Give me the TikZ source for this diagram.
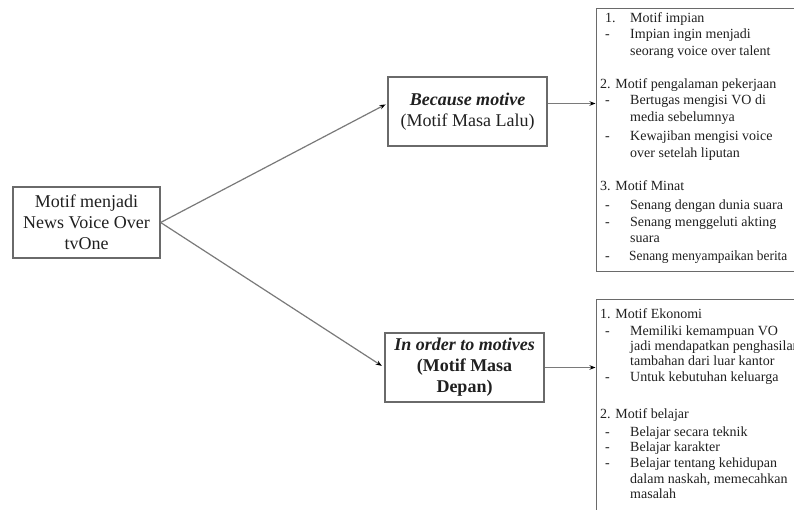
\documentclass[tikz,border=0pt]{standalone}
\usepackage{fontspec}
\setmainfont{Liberation Serif}
\usetikzlibrary{arrows.meta}
\definecolor{boxgray}{HTML}{6A6A6A}
\definecolor{linegray}{HTML}{7A7A7A}
\definecolor{txt}{HTML}{202020}
\begin{document}
\begin{tikzpicture}[x=1pt,y=-1pt,
  box/.style={draw=boxgray, line width=1.3pt, inner sep=0pt},
  maintext/.style={font=\fontsize{18}{21}\selectfont, align=center, text=txt},
  ln/.style={anchor=base west, inner sep=0pt, font=\fontsize{14}{16}\selectfont, text=txt},
  conn/.style={draw=linegray, line width=1.2pt, -{Stealth[length=6pt,width=4.5pt,color=black]}}]
\useasboundingbox (0,0) rectangle (794,510);
\clip (0,0) rectangle (794,510);
\fill[white] (0,0) rectangle (794,510);

\node[box, maintext, minimum width=147pt, minimum height=71pt] (src) at (86.5,222.5)
  {Motif menjadi\\News Voice Over\\tvOne};
\node[box, maintext, minimum width=159pt, minimum height=69pt] (bm) at (467.5,111.5)
  {\textbf{\textit{Because motive}}\\(Motif Masa Lalu)};
\node[box, maintext, minimum width=159pt, minimum height=69pt] (im) at (464.5,367.5)
  {\textbf{\textit{In order to motives}}\\\textbf{(Motif Masa}\\\textbf{Depan)}};

\node[box, anchor=north west, minimum width=215pt, minimum height=263pt] (rb1) at (595.5,8) {};
\node[box, anchor=north west, minimum width=215pt, minimum height=240pt] (rb2) at (595.5,298.5) {};

\draw[conn, shorten >=2pt] (src.east) -- ([yshift=8pt]bm.west);
\draw[conn, shorten >=3pt] (src.east) -- (im.west);
\draw[conn] ([yshift=8pt]bm.east) -- ([yshift=8pt]bm.east -| rb1.west);
\draw[conn] (im.east) -- (im.east -| rb2.west);

% top right box text
\foreach \y/\x/\t [count=\i] in {
  23/605/{1.}, 23/630/{Motif impian},
  39/630/{Impian ingin menjadi}, 56/630/{seorang voice over talent},
  89/600/{2. Motif pengalaman pekerjaan},
  105/630/{Bertugas mengisi VO di}, 122/630/{media sebelumnya},
  141/630/{Kewajiban mengisi voice}, 158/630/{over setelah liputan},
  191/600/{3. Motif Minat},
  210/630/{Senang dengan dunia suara}, 227/630/{Senang menggeluti akting},
  243/630/{suara}, 261/629/{\scalebox{0.955}[1]{Senang menyampaikan berita}}}
  \node[ln] (ta\i) at (\x,\y) {\t};
\foreach \y [count=\i] in {39,105,141,210,227,261}
  \node[ln] (da\i) at (605,\y) {-};

% bottom right box text
\foreach \y/\x/\t [count=\i] in {
  318/600/{1. Motif Ekonomi},
  335/630/{Memiliki kemampuan VO}, 350/630/{jadi mendapatkan penghasilan},
  365/630/{tambahan dari luar kantor}, 381/630/{Untuk kebutuhan keluarga},
  418/600/{2. Motif belajar},
  436/630/{Belajar secara teknik}, 451/630/{Belajar karakter},
  467/630/{Belajar tentang kehidupan}, 483/630/{dalam naskah, memecahkan},
  498/630/{masalah}}
  \node[ln] (tb\i) at (\x,\y) {\t};
\foreach \y [count=\i] in {335,381,436,451,467}
  \node[ln] (db\i) at (605,\y) {-};
\end{tikzpicture}
\end{document}
